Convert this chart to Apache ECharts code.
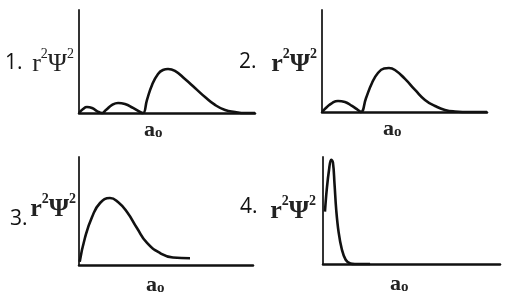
<!DOCTYPE html>
<html>
<head>
<meta charset="utf-8">
<script src="https://cdn.jsdelivr.net/npm/echarts@6/dist/echarts.min.js"></script>
<style>html,body{margin:0;padding:0;background:#fff;}#c{width:515px;height:299px;}</style>
</head>
<body>
<div id="c"></div>
<script>
// Panel labels
const panelNumbers = ['1.', '2.', '3.', '4.'];
const yAxisName = ['r', '2', 'Ψ', '2'];
const xAxisName = ['a', 'o'];

// Plot 1 (distance in % of axis length, r²Ψ² in % of axis height)
const x1 = [0, 2.3, 4.5, 7.4, 10.2, 13.1, 15.3, 18.8, 22.2, 26.1, 30.7, 34.7, 36.4, 38.6, 41.5, 44.9, 47.7, 50.6, 54.5, 60.2, 65.9, 71.6, 77.3, 83, 88.6, 94.3, 100];
const y1 = [0, 3.9, 5.8, 4.9, 1.9, 0, 2.9, 7.8, 9.7, 8.7, 4.9, 1, 0, 12.6, 27.2, 37.9, 41.7, 42.7, 40.8, 33, 24.3, 15.5, 7.8, 2.9, 1, 0, 0];
// Plot 2
const x2 = [0, 3, 6.1, 9.7, 13.9, 18.2, 21.8, 23.6, 26.7, 30.3, 33.9, 37.6, 40.6, 44.2, 50.3, 56.4, 62.4, 68.5, 74.5, 80.6, 89.7, 100];
const y2 = [0, 4.9, 8.8, 10.8, 9.8, 5.9, 2, 0, 13.7, 28.4, 38.2, 42.6, 43.1, 41.2, 32.4, 21.6, 11.8, 5.9, 2, 0.5, 0, 0];
// Plot 3
const x3 = [0.4, 3.4, 7.5, 12.1, 17.8, 22.4, 27.6, 33.3, 39.1, 46.6, 54, 63.8];
const y3 = [3, 25, 44.4, 57.4, 62, 58.3, 49.1, 34.3, 20.4, 11.1, 6.9, 6.2];
// Plot 4
const x4 = [1.1, 2.1, 3.4, 4.6, 5.6, 6.5, 7.5, 8.8, 10.6, 12.8, 15.5, 18, 26.6];
const y4 = [48.9, 69.2, 87.9, 97.5, 95, 75, 50, 30, 14, 4, 0.5, 0, 0];

const xs = [x1, x2, x3, x4];
const ys = [y1, y2, y3, y4];

const grids = [
  {left: 79, top: 10, width: 176, height: 103},
  {left: 322, top: 10, width: 165, height: 102},
  {left: 79, top: 157, width: 174, height: 108},
  {left: 323, top: 157, width: 177, height: 107}
];

const chart = echarts.init(document.getElementById('c'), null, {renderer: 'canvas'});

const xAxis = grids.map((g, i) => ({
  type: 'value', gridIndex: i, min: 0, max: 100,
  axisLine: {show: true, onZero: false, lineStyle: {color: '#111', width: 2.5}},
  axisTick: {show: false}, axisLabel: {show: false}, splitLine: {show: false}
}));
const yAxis = grids.map((g, i) => ({
  type: 'value', gridIndex: i, min: 0, max: 100,
  axisLine: {show: true, onZero: false, lineStyle: {color: '#333', width: 2}},
  axisTick: {show: false}, axisLabel: {show: false}, splitLine: {show: false}
}));
const series = xs.map((xa, i) => ({
  type: 'line', xAxisIndex: i, yAxisIndex: i,
  data: xa.map((x, k) => [x, ys[i][k]]),
  smooth: i === 3 ? 0.4 : 0.5,
  symbol: 'none', clip: false,
  lineStyle: {color: '#111', width: 2.6}
}));

const yBold = [false, true, true, true];
function yName(i, x, y) {
  const w = yBold[i] ? 'bold' : 'normal';
  return {
    type: 'text', x: x, y: y,
    style: {
      text: '{b|' + yAxisName[0] + '}{s|' + yAxisName[1] + '}{b|' + yAxisName[2] + '}{s|' + yAxisName[3] + '}',
      textAlign: 'right', textVerticalAlign: 'middle',
      rich: {
        b: {fontFamily: 'Liberation Serif', fontSize: 26, fontWeight: w, fill: '#222', lineHeight: 30, verticalAlign: 'bottom'},
        s: {fontFamily: 'Liberation Serif', fontSize: 14, fontWeight: w, fill: '#222', lineHeight: 6, verticalAlign: 'top'}
      }
    }
  };
}
function xName(x, y) {
  return {
    type: 'text', x: x, y: y,
    style: {
      text: '{a|' + xAxisName[0] + '}{o|' + xAxisName[1] + '}',
      textAlign: 'left', textVerticalAlign: 'middle',
      rich: {
        a: {fontFamily: 'Liberation Serif', fontSize: 22, fontWeight: 'bold', fill: '#222', lineHeight: 22, verticalAlign: 'top'},
        o: {fontFamily: 'Liberation Serif', fontSize: 15, fontWeight: 'bold', fill: '#222', lineHeight: 10, verticalAlign: 'bottom'}
      }
    }
  };
}
function num(i, x, y) {
  return {
    type: 'text', x: x, y: y,
    style: {text: panelNumbers[i], fontFamily: 'Open Sans', fontSize: 21, fill: '#111', textAlign: 'left', textVerticalAlign: 'middle'}
  };
}

const graphic = [
  num(0, 5, 63), num(1, 239, 62), num(2, 10, 219), num(3, 240, 207),
  yName(0, 74, 62), yName(1, 317, 62), yName(2, 76, 207), yName(3, 316, 209),
  xName(144, 130), xName(383, 129), xName(146, 285), xName(390, 284)
];

chart.setOption({
  animation: false,
  backgroundColor: '#fff',
  grid: grids,
  xAxis: xAxis,
  yAxis: yAxis,
  series: series,
  graphic: graphic
});
</script>
</body>
</html>
